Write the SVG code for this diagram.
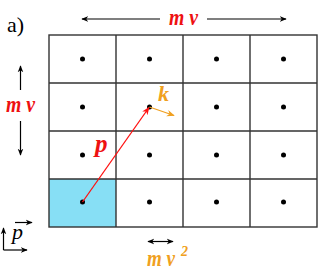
<svg xmlns="http://www.w3.org/2000/svg" width="318" height="273" viewBox="0 0 318 273">
<defs>
<marker id="ah" viewBox="0 0 10 10" refX="9" refY="5" markerWidth="7" markerHeight="7" orient="auto-start-reverse" markerUnits="userSpaceOnUse"><path d="M0,1 L10,5 L0,9 L3,5 Z" fill="#000"/></marker>
<marker id="ar" viewBox="0 0 10 10" refX="9" refY="5" markerWidth="8" markerHeight="8" orient="auto" markerUnits="userSpaceOnUse"><path d="M0,1 L10,5 L0,9 L3,5 Z" fill="#ff1010"/></marker>
<marker id="ao" viewBox="0 0 10 10" refX="9" refY="5" markerWidth="8" markerHeight="8" orient="auto" markerUnits="userSpaceOnUse"><path d="M0,1 L10,5 L0,9 L3,5 Z" fill="#f0a020"/></marker>
</defs>
<style>
.grid{stroke:#333;stroke-width:1.4;fill:none}
.dot{fill:#000}
.ax{stroke:#000;stroke-width:1.2;fill:none}
.lab{font-family:"Liberation Serif",serif;font-style:italic;font-weight:bold}
.red{fill:#ee1111}
.or{fill:#f0a020}
</style>
<text x="7" y="32" font-family="Liberation Serif,serif" font-size="22">a)</text>
<g id="grid">
<rect x="49" y="179" width="67" height="48" fill="#87dff5"/>
<rect class="grid" x="49" y="35" width="268" height="192"/>
<path class="grid" d="M116,35V227M183,35V227M250,35V227M49,83H317M49,131H317M49,179H317"/>
</g>
<g id="dots">
<circle class="dot" cx="82.5" cy="59" r="2.5"/><circle class="dot" cx="149.5" cy="59" r="2.5"/><circle class="dot" cx="216.5" cy="59" r="2.5"/><circle class="dot" cx="283.5" cy="59" r="2.5"/>
<circle class="dot" cx="82.5" cy="107" r="2.5"/><circle class="dot" cx="149.5" cy="107" r="2.5"/><circle class="dot" cx="216.5" cy="107" r="2.5"/><circle class="dot" cx="283.5" cy="107" r="2.5"/>
<circle class="dot" cx="82.5" cy="155" r="2.5"/><circle class="dot" cx="149.5" cy="155" r="2.5"/><circle class="dot" cx="216.5" cy="155" r="2.5"/><circle class="dot" cx="283.5" cy="155" r="2.5"/>
<circle class="dot" cx="82.5" cy="202" r="2.5"/><circle class="dot" cx="149.5" cy="202" r="2.5"/><circle class="dot" cx="216.5" cy="202" r="2.5"/><circle class="dot" cx="283.5" cy="202" r="2.5"/>
</g>
<g id="connectors">
<line class="ax" x1="160" y1="19" x2="82" y2="19" marker-end="url(#ah)"/>
<line class="ax" x1="207" y1="19" x2="286" y2="19" marker-end="url(#ah)"/>
<line class="ax" x1="20.5" y1="90" x2="20.5" y2="66" marker-end="url(#ah)"/>
<line class="ax" x1="20.5" y1="121" x2="20.5" y2="155" marker-end="url(#ah)"/>
<line x1="82.5" y1="202" x2="149" y2="107.5" stroke="#ff1010" stroke-width="1.3" marker-end="url(#ar)"/>
<line x1="149.5" y1="107" x2="174" y2="115.5" stroke="#f0a020" stroke-width="1.3" marker-end="url(#ao)"/>
<line class="ax" x1="148" y1="241.5" x2="173" y2="241.5" marker-start="url(#ah)" marker-end="url(#ah)"/>
<line class="ax" x1="3.5" y1="250" x2="3.5" y2="228" marker-end="url(#ah)"/>
<line class="ax" x1="3.5" y1="250" x2="27" y2="250" marker-end="url(#ah)"/>
<line class="ax" x1="15" y1="222.5" x2="32" y2="222.5" marker-end="url(#ah)"/>
</g>
<g id="labels">
<text class="lab red" x="169" y="25" font-size="24" textLength="29" lengthAdjust="spacingAndGlyphs">m v</text>
<text class="lab red" x="6" y="112" font-size="24" textLength="29" lengthAdjust="spacingAndGlyphs">m v</text>
<text class="lab red" x="95" y="152" font-size="25">p</text>
<text class="lab or" x="158" y="101" font-size="22">k</text>
<text class="lab or" x="147" y="266" font-size="24" textLength="28" lengthAdjust="spacingAndGlyphs">m v</text>
<text class="lab or" x="181" y="256" font-size="14">2</text>
<text x="12" y="239" font-family="Liberation Serif,serif" font-style="italic" font-size="22">p</text>
</g>
</svg>
